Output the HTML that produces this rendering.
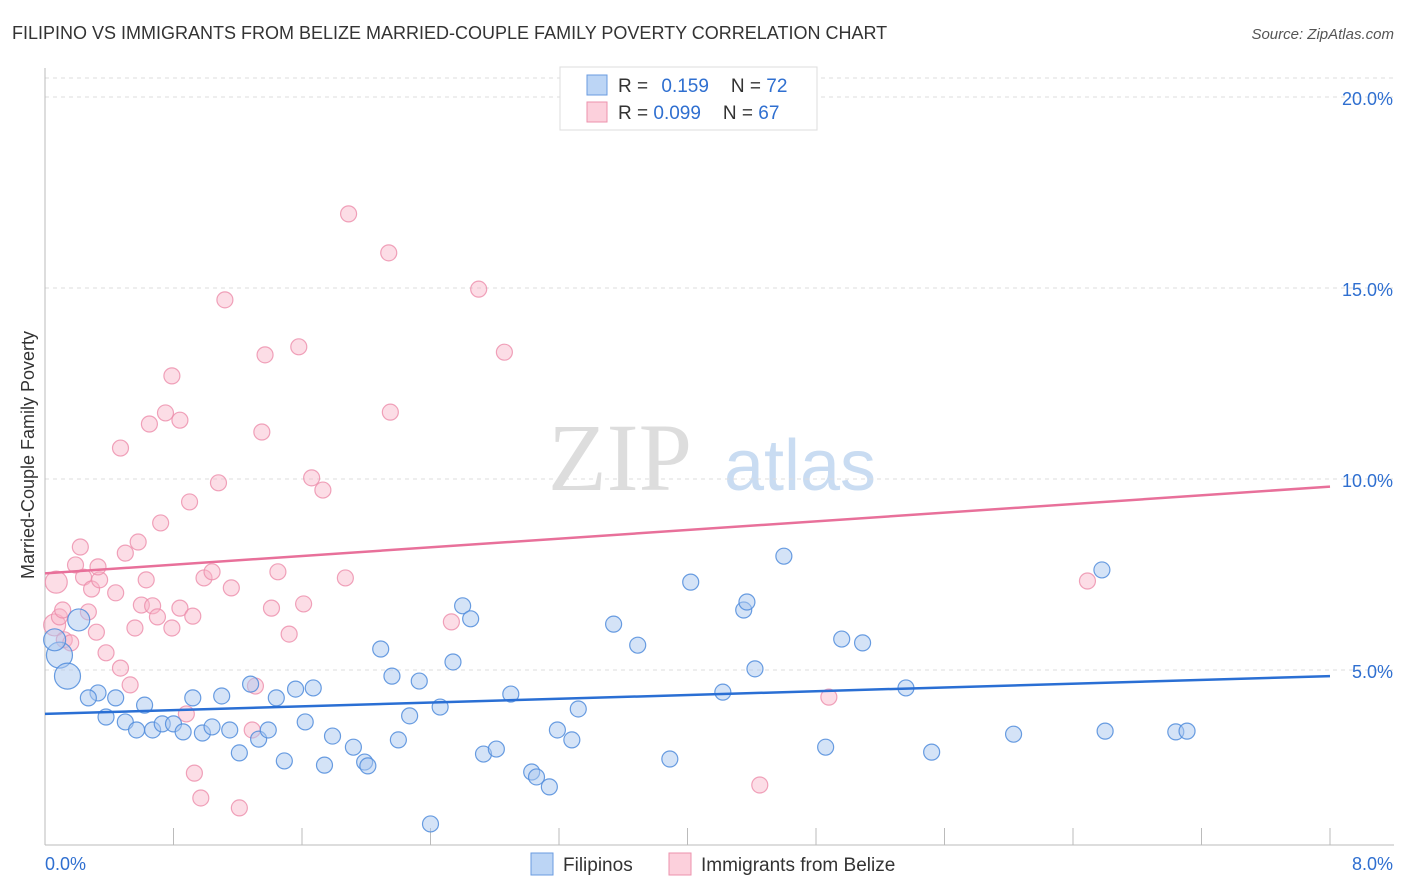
<!DOCTYPE html>
<html><head><meta charset="utf-8"><style>
body{margin:0;background:#fff;font-family:"Liberation Sans",sans-serif;}
svg{display:block}
</style></head><body>
<svg id="chart" width="1406" height="892">
<text x="12" y="39" font-size="18" fill="#333">FILIPINO VS IMMIGRANTS FROM BELIZE MARRIED-COUPLE FAMILY POVERTY CORRELATION CHART</text>
<text x="1394" y="39" font-size="15" fill="#555" text-anchor="end" font-style="italic">Source: ZipAtlas.com</text>
<text x="620" y="490" font-size="96" fill="#ddd" font-family="Liberation Serif" text-anchor="middle">ZIP</text>
<text x="800" y="490" font-size="72" fill="#c9dcf2" text-anchor="middle">atlas</text>
<text x="34" y="455" font-size="18" fill="#333" text-anchor="middle" transform="rotate(-90 34 455)">Married-Couple Family Poverty</text>
<g id="grid"></g><g id="pts"></g><g id="lines"></g>
<g>
<rect x="560" y="67" width="257" height="63" fill="#fff" stroke="#ddd"/>
<rect x="587" y="75" width="20" height="20" fill="#bcd5f5" stroke="#6a9be0"/>
<rect x="587" y="102" width="20" height="20" fill="#fcd0dc" stroke="#ec92ad"/>
<text x="618" y="92" font-size="19" fill="#333">R = <tspan fill="#2f6fd0" dx="8">0.159</tspan><tspan dx="22">N = </tspan><tspan fill="#2f6fd0">72</tspan></text>
<text x="618" y="119" font-size="19" fill="#333">R = <tspan fill="#2f6fd0">0.099</tspan><tspan dx="22">N = </tspan><tspan fill="#2f6fd0">67</tspan></text>
</g>
<g>
<rect x="531" y="853" width="22" height="22" fill="#bcd5f5" stroke="#6a9be0"/>
<text x="563" y="871" font-size="19" fill="#333">Filipinos</text>
<rect x="669" y="853" width="22" height="22" fill="#fcd0dc" stroke="#ec92ad"/>
<text x="701" y="871" font-size="19" fill="#333">Immigrants from Belize</text>
</g>
</svg>
<script>
const yTicks=[5,10,15,20];
const yTickLabels=["5.0%","10.0%","15.0%","20.0%"];
const xTickLabels=["0.0%","8.0%"];
const blueX=[0.09,0.14,0.06,0.21,0.33,0.27,0.44,0.38,0.50,0.57,0.62,0.67,0.73,0.80,0.86,0.92,0.98,1.04,1.10,1.15,1.21,1.28,1.33,1.39,1.44,1.49,1.56,1.62,1.67,1.74,1.79,1.92,1.99,2.01,2.09,2.16,2.20,2.27,2.33,2.40,2.46,2.54,2.60,2.65,2.73,2.81,2.90,3.03,3.06,3.14,3.19,3.28,3.32,3.54,3.69,3.89,4.02,4.22,4.35,4.37,4.42,4.60,4.86,4.96,5.09,5.36,5.52,6.03,6.58,6.60,7.04,7.11];
const blueY=[5.39,4.84,5.79,6.31,4.40,4.27,4.27,3.77,3.64,3.43,4.08,3.43,3.59,3.59,3.38,4.27,3.35,3.51,4.32,3.43,2.83,4.63,3.19,3.43,4.27,2.62,4.50,3.64,4.53,2.51,3.27,2.98,2.59,2.49,5.55,4.84,3.17,3.80,4.71,0.97,4.03,5.21,6.68,6.34,2.80,2.93,4.37,2.33,2.20,1.94,3.43,3.17,3.98,6.20,5.65,2.67,7.30,4.42,6.57,6.78,5.03,7.98,2.98,5.81,5.71,4.53,2.85,3.32,7.62,3.40,3.38,3.40];
const pinkX=[0.07,0.06,0.09,0.11,0.12,0.16,0.22,0.19,0.24,0.29,0.34,0.32,0.38,0.27,0.33,0.44,0.47,0.50,0.53,0.56,0.58,0.63,0.60,0.67,0.65,0.70,0.72,0.75,0.79,0.79,0.84,0.84,0.88,0.90,0.92,0.93,0.97,0.99,1.04,1.08,1.12,1.16,1.21,1.29,1.31,1.35,1.37,1.41,1.45,1.52,1.58,1.61,1.66,1.73,1.87,1.89,2.14,2.15,2.53,2.70,2.86,4.45,4.88,6.49,0.47];
const pinkY=[7.30,6.18,6.39,6.57,5.79,5.71,8.22,7.75,7.43,7.12,7.36,5.99,5.45,6.52,7.70,7.02,5.05,8.06,4.61,6.10,8.35,7.36,6.70,6.68,11.44,6.39,8.85,11.73,6.10,12.70,6.62,11.54,3.85,9.40,6.41,2.30,1.65,7.41,7.57,9.90,14.69,7.15,1.39,3.43,4.58,11.23,13.25,6.62,7.57,5.94,13.46,6.73,10.03,9.71,7.41,16.94,15.92,11.75,6.26,14.97,13.32,1.99,4.29,7.33,10.81];
const blueTrend=[3.85,4.84];
const pinkTrend=[7.53,9.80];
const NS="http://www.w3.org/2000/svg";
const X=v=>45+v/8*1285;
const Y=v=>861-v*38.2;
function mk(tag,attrs,parent){const e=document.createElementNS(NS,tag);for(const k in attrs)e.setAttribute(k,attrs[k]);parent.appendChild(e);return e;}
const grid=document.getElementById('grid');
yTicks.forEach((t,i)=>{
 const l=mk('line',{x1:45,x2:1394,y1:Y(t),y2:Y(t),stroke:'#ddd','stroke-dasharray':'4 4'},grid);
 
 
 const tx=mk('text',{x:1393,y:Y(t)+8,'font-size':18,fill:'#2f6fd0','text-anchor':'end'},grid);
 tx.textContent=yTickLabels[i];
 
 
});
const topLine=mk('line',{x1:45,x2:1394,y1:78,y2:78,stroke:'#ddd','stroke-dasharray':'4 4'},grid);


const ax=mk('line',{x1:45,x2:1394,y1:845,y2:845,stroke:'#bbb'},grid);


const ay=mk('line',{x1:45,x2:45,y1:68,y2:845,stroke:'#bbb'},grid);


for(let i=0;i<=10;i++){const tk=mk('line',{x1:X(i*0.8),x2:X(i*0.8),y1:828,y2:845,stroke:'#bbb'},grid);
 
 }
[[0,'start',45],[1,'end',1393]].forEach(([i,a,x])=>{const t=mk('text',{x:x,y:870,'font-size':18,fill:'#2f6fd0','text-anchor':a},grid);t.textContent=xTickLabels[i];
 
 });
const pts=document.getElementById('pts');
pinkX.forEach((x,i)=>{const c=mk('circle',{cx:X(x),cy:Y(pinkY[i]),r:i<2?11:8,fill:'rgba(248,180,200,0.45)',stroke:'rgba(236,140,170,0.8)','stroke-width':1.2},pts);
 
 });
blueX.forEach((x,i)=>{const c=mk('circle',{cx:X(x),cy:Y(blueY[i]),r:i<2?13:(i<4?11:8),fill:'rgba(170,200,240,0.5)',stroke:'rgba(80,140,220,0.85)','stroke-width':1.2},pts);
 
 });
const lines=document.getElementById('lines');
const bl=mk('line',{x1:X(0),x2:X(8),y1:Y(blueTrend[0]),y2:Y(blueTrend[1]),stroke:'#2a6fd4','stroke-width':2.5},lines);


const pl=mk('line',{x1:X(0),x2:X(8),y1:Y(pinkTrend[0]),y2:Y(pinkTrend[1]),stroke:'#e8709a','stroke-width':2.5},lines);


</script>
</body></html>
